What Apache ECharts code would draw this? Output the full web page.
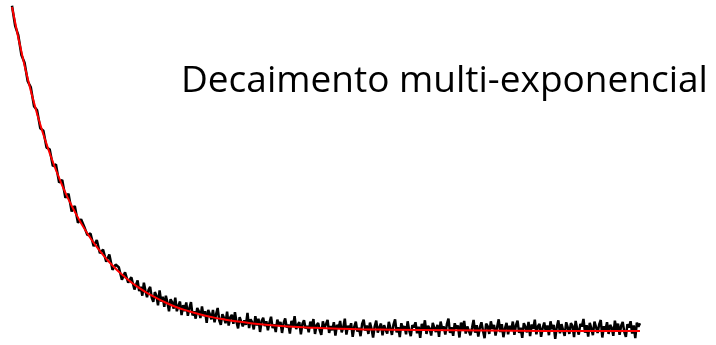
<!DOCTYPE html>
<html>
<head>
<meta charset="utf-8">
<script src="https://cdn.jsdelivr.net/npm/echarts@6/dist/echarts.min.js"></script>
<style>
  html, body { margin: 0; padding: 0; background: #fff; }
  #chart { width: 716px; height: 345px; }
</style>
</head>
<body>
<div id="chart"></div>
<script>
// Measured decay (normalised intensity). Early part sampled every 0.5 time units from t = 0.
const earlyStart = 0;
const earlyStep = 0.5;
const measuredEarly = [
  1.004, 0.942, 0.913, 0.852, 0.828, 0.771, 0.752, 0.694, 0.681, 0.626,
  0.618, 0.566, 0.561, 0.509, 0.514, 0.458, 0.466, 0.411, 0.424, 0.369,
  0.386, 0.334, 0.345, 0.322, 0.296, 0.301, 0.262, 0.281, 0.240, 0.251,
  0.214, 0.236, 0.189, 0.205, 0.197, 0.158, 0.181, 0.149, 0.166, 0.128
];

// Later part sampled every 0.25 time units from t = 20.
const lateStart = 20;
const lateStep = 0.25;
const measuredLate = [
  // t = 20 .. 39.75
  0.156, 0.123, 0.137, 0.109, 0.149, 0.124, 0.104, 0.127, 0.136, 0.103,
  0.090, 0.120, 0.109, 0.079, 0.125, 0.091, 0.106, 0.075, 0.109, 0.088,
  0.061, 0.098, 0.089, 0.069, 0.103, 0.061, 0.078, 0.091, 0.049, 0.080,
  0.061, 0.088, 0.047, 0.071, 0.089, 0.048, 0.061, 0.038, 0.071, 0.061,
  0.040, 0.076, 0.046, 0.061, 0.025, 0.065, 0.052, 0.036, 0.065, 0.027,
  0.052, 0.071, 0.033, 0.019, 0.052, 0.041, 0.024, 0.060, 0.017, 0.042,
  0.050, 0.022, 0.058, 0.028, 0.008, 0.043, 0.049, 0.014, 0.033, 0.019,
  0.056, 0.009, 0.036, 0.027, 0.005, 0.046, 0.017, 0.038, -0.003, 0.031,
  // t = 40 .. 49.75
  0.041, 0.015, 0.030, 0.002, 0.026, 0.044, 0.009, 0.021, -0.003, 0.035,
  0.018, 0.028, -0.006, 0.024, 0.039, 0.011, 0.020, -0.008, 0.031, 0.014,
  0.046, 0.006, 0.019, 0.027, -0.010, 0.022, 0.033, 0.008, 0.016, -0.004,
  0.029, 0.012, 0.037, -0.009, 0.018, 0.025, 0.003, -0.012, 0.030, 0.010,
  // t = 50 .. 59.75
  0.021, 0.034, -0.006, 0.015, 0.002, 0.027, -0.014, 0.019, 0.008, 0.031,
  -0.004, 0.012, 0.038, -0.011, 0.016, 0.005, 0.024, -0.018, 0.013, 0.029,
  -0.002, 0.010, -0.016, 0.022, 0.035, 0.001, 0.017, -0.009, 0.026, 0.007,
  -0.020, 0.014, 0.032, -0.005, 0.011, 0.023, -0.013, 0.018, 0.004, -0.008,
  // t = 60 .. 69.75
  0.028, 0.009, -0.012, 0.020, 0.036, -0.004, 0.012, -0.019, 0.024, 0.006,
  0.015, -0.010, 0.030, 0.002, -0.016, 0.018, 0.011, 0.027, -0.007, 0.013,
  -0.021, 0.022, 0.004, 0.033, -0.009, 0.016, 0.008, -0.014, 0.025, 0.010,
  -0.003, 0.019, -0.018, 0.029, 0.006, 0.014, -0.011, 0.021, 0.038, -0.006,
  // t = 70 .. 79.75
  0.012, -0.015, 0.024, 0.007, 0.017, -0.020, 0.026, 0.003, 0.031, -0.008,
  0.014, 0.020, -0.013, 0.009, 0.034, -0.005, 0.018, -0.017, 0.011, 0.027,
  0.001, -0.022, 0.023, 0.015, -0.009, 0.030, 0.006, 0.019, -0.014, 0.012,
  0.036, -0.003, 0.021, -0.019, 0.008, 0.025, -0.010, 0.016, 0.004, 0.029,
  // t = 80 .. 89.75
  -0.012, 0.018, 0.032, -0.006, 0.010, -0.021, 0.024, 0.013, -0.004, 0.028,
  -0.016, 0.020, 0.007, 0.035, -0.010, 0.015, 0.022, -0.018, 0.009, 0.026,
  -0.002, 0.017, -0.013, 0.030, 0.005, 0.019, -0.024, 0.012, 0.033, -0.007,
  0.021, 0.003, -0.015, 0.027, 0.011, -0.009, 0.024, 0.016, -0.019, 0.031,
  // t = 90 .. 100
  0.006, -0.011, 0.022, 0.014, 0.037, -0.005, 0.018, -0.017, 0.025, 0.008,
  -0.013, 0.029, 0.012, -0.006, 0.020, 0.034, -0.020, 0.015, 0.003, 0.027,
  -0.009, 0.019, 0.010, -0.015, 0.032, 0.004, 0.023, -0.012, 0.016, 0.028,
  -0.003, -0.018, 0.021, 0.011, 0.030, -0.008, 0.017, -0.022, 0.026, 0.013,
  0.024
];

// Multi-exponential fit evaluated at these times
const fitTimes  = [0, 2, 4, 6, 8, 10, 12, 14, 16, 18, 20, 22, 24, 26, 28, 30, 32, 34, 36, 38, 40, 44, 48, 52, 56, 60, 70, 80, 90, 100];
const fitValues = [1.000, 0.819, 0.670, 0.549, 0.449, 0.368, 0.301, 0.247, 0.202, 0.166,
                   0.136, 0.112, 0.092, 0.075, 0.062, 0.051, 0.042, 0.035, 0.029, 0.024,
                   0.020, 0.014, 0.010, 0.007, 0.005, 0.004, 0.002, 0.001, 0.000, 0.000];

const titleText = 'Decaimento multi-exponencial';

const measuredPairs = measuredEarly.map((v, i) => [earlyStart + i * earlyStep, v])
  .concat(measuredLate.map((v, i) => [lateStart + i * lateStep, v]));
const fitPairs = fitTimes.map((t, i) => [t, fitValues[i]]);

const chart = echarts.init(document.getElementById('chart'), null, { renderer: 'canvas' });
chart.setOption({
  backgroundColor: '#ffffff',
  animation: false,
  title: {
    text: titleText,
    left: 181,
    top: 63,
    padding: 0,
    textStyle: {
      fontFamily: 'Open Sans',
      fontWeight: 'normal',
      fontSize: 37,
      color: '#000000'
    }
  },
  grid: { left: 12, width: 628, top: 0, bottom: 0 },
  xAxis: { type: 'value', min: 0, max: 100, show: false },
  yAxis: { type: 'value', min: -0.0432, max: 1.0216, show: false },
  series: [
    {
      name: 'Medido',
      type: 'line',
      data: measuredPairs,
      showSymbol: false,
      symbol: 'none',
      lineStyle: { color: '#000000', width: 2.5 },
      z: 2
    },
    {
      name: 'Ajuste',
      type: 'line',
      data: fitPairs,
      smooth: true,
      showSymbol: false,
      symbol: 'none',
      lineStyle: { color: '#ff0000', width: 2 },
      z: 3
    }
  ]
});
</script>
</body>
</html>
